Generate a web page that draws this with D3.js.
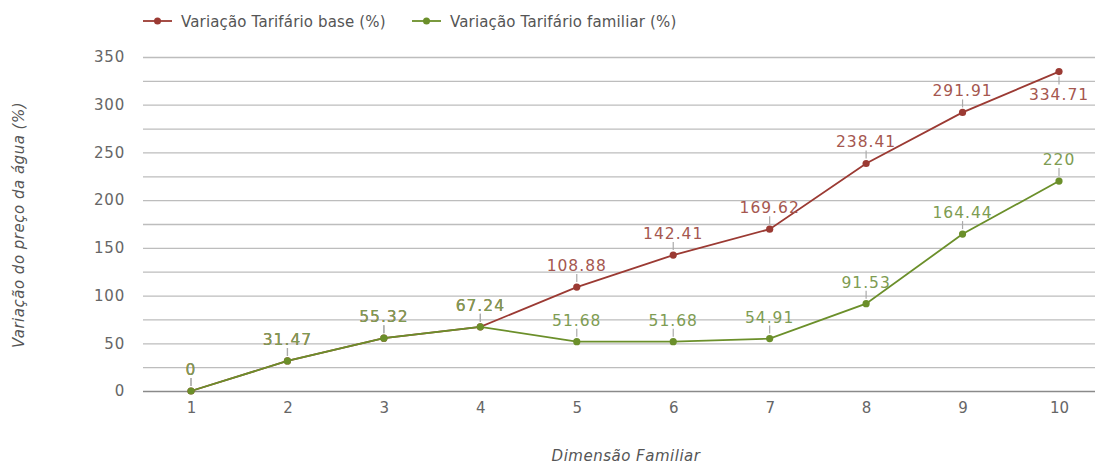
<!DOCTYPE html>
<html>
<head>
<meta charset="utf-8">
<script src="https://cdn.jsdelivr.net/npm/d3@7"></script>
<style>
  html, body { margin: 0; padding: 0; background: #fff; }
  svg { display: block; font-family: "DejaVu Sans", sans-serif; }
</style>
</head>
<body>
<svg id="chart" width="1095" height="464"></svg>
<script>
// Household size (categories) and water-price variation for each tariff
const categories = ["1", "2", "3", "4", "5", "6", "7", "8", "9", "10"];
const baseValues = [0, 31.47, 55.32, 67.24, 108.88, 142.41, 169.62, 238.41, 291.91, 334.71];
const familyValues = [0, 31.47, 55.32, 67.24, 51.68, 51.68, 54.91, 91.53, 164.44, 220];
const seriesNames = ["Variação Tarifário base (%)", "Variação Tarifário familiar (%)"];
const yTicks = [0, 50, 100, 150, 200, 250, 300, 350];
const yMinorTicks = [25, 75, 125, 175, 225, 275, 325];

const series = [
  { name: seriesNames[0], values: baseValues, line: "#9b3a33", label: "#a5574f" },
  { name: seriesNames[1], values: familyValues, line: "#6b8f2a", label: "#7e9c52" }
];

const svg = d3.select("#chart");
const plotLeft = 143, plotRight = 1095, plotTop = 57, plotBottom = 391;

const x = d3.scalePoint().domain(categories).range([191, 1059]);
const y = d3.scaleLinear().domain([0, 350]).range([plotBottom, plotTop]);

// Gridlines (major and minor)
const grid = svg.append("g");
grid.selectAll("line.minor").data(yMinorTicks).join("line")
  .attr("x1", plotLeft).attr("x2", plotRight)
  .attr("y1", d => y(d) + 0.5).attr("y2", d => y(d) + 0.5)
  .attr("stroke", "#bdbdbd").attr("stroke-width", 1.3);
grid.selectAll("line.major").data(yTicks.filter(d => d !== 0)).join("line")
  .attr("x1", plotLeft).attr("x2", plotRight)
  .attr("y1", d => y(d) + 0.5).attr("y2", d => y(d) + 0.5)
  .attr("stroke", "#bdbdbd").attr("stroke-width", 1.3);
grid.append("line")
  .attr("x1", plotLeft).attr("x2", plotRight)
  .attr("y1", y(0) + 0.5).attr("y2", y(0) + 0.5)
  .attr("stroke", "#8a8a8a").attr("stroke-width", 1.3);

// Y axis tick labels
const yAxis = svg.append("g")
  .attr("transform", `translate(${plotLeft - 18},0)`)
  .call(d3.axisLeft(y).tickValues(yTicks).tickSize(0).tickPadding(0));
yAxis.select(".domain").remove();
yAxis.selectAll("text")
  .attr("fill", "#666").style("font-size", "15px").style("letter-spacing", "0.8px")
  .attr("font-family", "DejaVu Sans");

// X axis tick labels
const xAxis = svg.append("g")
  .attr("transform", `translate(0,${plotBottom + 8})`)
  .call(d3.axisBottom(x).tickSize(0).tickPadding(3));
xAxis.select(".domain").remove();
xAxis.selectAll("text")
  .attr("fill", "#666").style("font-size", "15px")
  .attr("font-family", "DejaVu Sans");

// Axis titles
svg.append("text")
  .attr("transform", `translate(24,${225}) rotate(-90)`)
  .attr("text-anchor", "middle")
  .attr("fill", "#555").style("font-size", "15px").style("font-style", "italic")
  .style("letter-spacing", "0.5px")
  .text("Variação do preço da água (%)");
svg.append("text")
  .attr("x", 626).attr("y", 461)
  .attr("text-anchor", "middle")
  .attr("fill", "#555").style("font-size", "15px").style("font-style", "italic")
  .style("letter-spacing", "0.5px")
  .text("Dimensão Familiar");

// Lines and points
const line = d3.line().x((d, i) => x(categories[i])).y(d => y(d));
series.forEach(s => {
  const g = svg.append("g");
  g.append("path").datum(s.values)
    .attr("d", line).attr("fill", "none")
    .attr("stroke", s.line).attr("stroke-width", 1.8);
  g.selectAll("circle").data(s.values).join("circle")
    .attr("cx", (d, i) => x(categories[i])).attr("cy", d => y(d))
    .attr("r", 3.6).attr("fill", s.line);
});

// Value labels with leader ticks; labels near the top edge go below the point
series.forEach(s => {
  const g = svg.append("g");
  s.values.forEach((v, i) => {
    const cx = x(categories[i]), cy = y(v);
    const below = cy - 16 < plotTop + 10;
    g.append("line")
      .attr("x1", cx).attr("x2", cx)
      .attr("y1", below ? cy + 5 : cy - 5)
      .attr("y2", below ? cy + 13 : cy - 13)
      .attr("stroke", "#aaa").attr("stroke-width", 1.2);
    g.append("text")
      .attr("x", cx).attr("y", below ? cy + 28 : cy - 16)
      .attr("text-anchor", "middle")
      .attr("fill", s.label).style("font-size", "15.5px")
      .style("letter-spacing", "1px")
      .text(String(v));
  });
});

// Legend
const legend = svg.append("g");
const legendX = [143, 412];
series.forEach((s, i) => {
  const lx = legendX[i];
  legend.append("line")
    .attr("x1", lx).attr("x2", lx + 29).attr("y1", 21).attr("y2", 21)
    .attr("stroke", s.line).attr("stroke-width", 1.8);
  legend.append("circle")
    .attr("cx", lx + 14.5).attr("cy", 21).attr("r", 3.5).attr("fill", s.line);
  legend.append("text")
    .attr("x", lx + 38).attr("y", 26.5)
    .attr("fill", "#555").style("font-size", "15px")
    .style("letter-spacing", "0.15px")
    .text(s.name);
});
</script>
</body>
</html>
